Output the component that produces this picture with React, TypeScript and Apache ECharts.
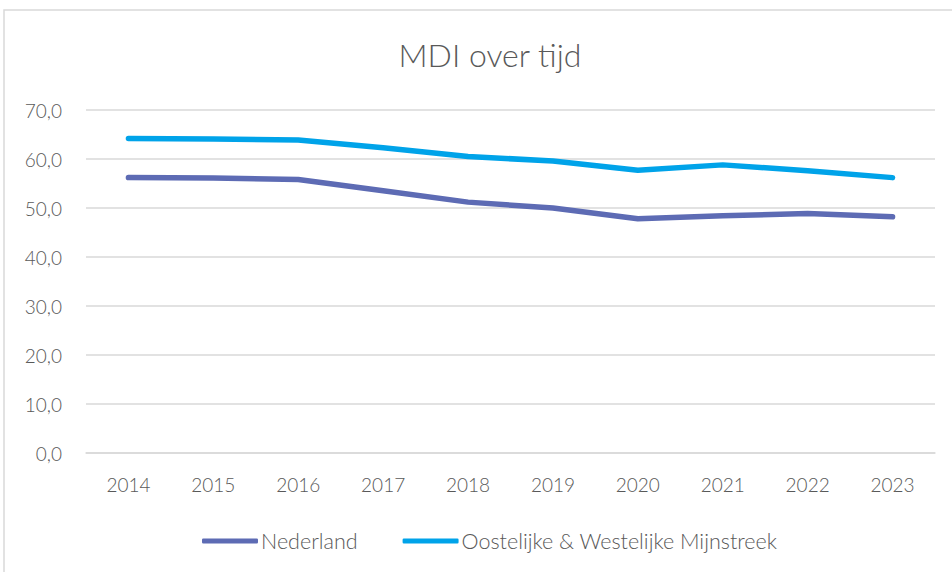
import React, { useEffect, useRef } from "react";
import * as echarts from "echarts";

const years = ["2014", "2015", "2016", "2017", "2018", "2019", "2020", "2021", "2022", "2023"];
const nederland = [56.2, 56.1, 55.8, 53.5, 51.2, 50.0, 47.8, 48.4, 48.9, 48.2];
const mijnstreek = [64.2, 64.1, 63.9, 62.3, 60.5, 59.6, 57.7, 58.8, 57.6, 56.2];
const seriesNames = ["Nederland", "Oostelijke & Westelijke Mijnstreek"];
const colors = ["#5d6bb4", "#00a3e9"];

const FONT = "Lato";

export default function App() {
  const ref = useRef<HTMLDivElement>(null);
  useEffect(() => {
    if (!ref.current) return;
    const chart = echarts.init(ref.current, undefined, { renderer: "svg" });
    chart.setOption({
      animation: false,
      backgroundColor: "#ffffff",
      title: {
        text: "MDI over tijd",
        left: 485,
        top: 33,
        textAlign: "center",
        textStyle: { fontFamily: FONT, fontWeight: 300, fontSize: 32, color: "#595959" },
      },
      graphic: [
        {
          type: "rect",
          shape: { x: 4, y: 10, width: 1000, height: 1000 },
          style: { fill: "none", stroke: "#d9d9d9", lineWidth: 1.5 },
          silent: true,
        },
      ],
      legend: {
        left: 197,
        top: 525,
        itemWidth: 56,
        itemHeight: 5,
        itemGap: 45,
        icon: "roundRect",
        data: seriesNames,
        textStyle: { fontFamily: FONT, fontWeight: 300, fontSize: 21.5, color: "#595959", padding: [0, 0, 0, -2] },
      },
      grid: { left: 86, right: 17, top: 110, bottom: 119, containLabel: false },
      xAxis: {
        type: "category",
        data: years,
        boundaryGap: true,
        axisLine: { show: true, lineStyle: { color: "#d9d9d9", width: 1.5 } },
        axisTick: { show: false },
        axisLabel: { margin: 22, fontFamily: FONT, fontWeight: 300, fontSize: 19, color: "#595959" },
      },
      yAxis: {
        type: "value",
        min: 0,
        max: 70,
        interval: 10,
        axisLine: { show: false },
        axisTick: { show: false },
        splitLine: { lineStyle: { color: "#d9d9d9", width: 1.5 } },
        axisLabel: {
          margin: 24,
          fontFamily: FONT,
          fontWeight: 300,
          fontSize: 19,
          color: "#595959",
          formatter: (v: number) => v.toFixed(1).replace(".", ","),
        },
      },
      series: [
        {
          name: seriesNames[0],
          type: "line",
          data: nederland,
          symbol: "none",
          color: colors[0],
          lineStyle: { width: 5.5, color: colors[0], cap: "round", join: "round" },
        },
        {
          name: seriesNames[1],
          type: "line",
          data: mijnstreek,
          symbol: "none",
          color: colors[1],
          lineStyle: { width: 5.5, color: colors[1], cap: "round", join: "round" },
        },
      ],
    });
    return () => chart.dispose();
  }, []);
  return (
    <div
      ref={ref}
      style={{ position: "fixed", left: 0, top: 0, width: 952, height: 572 }}
    />
  );
}
